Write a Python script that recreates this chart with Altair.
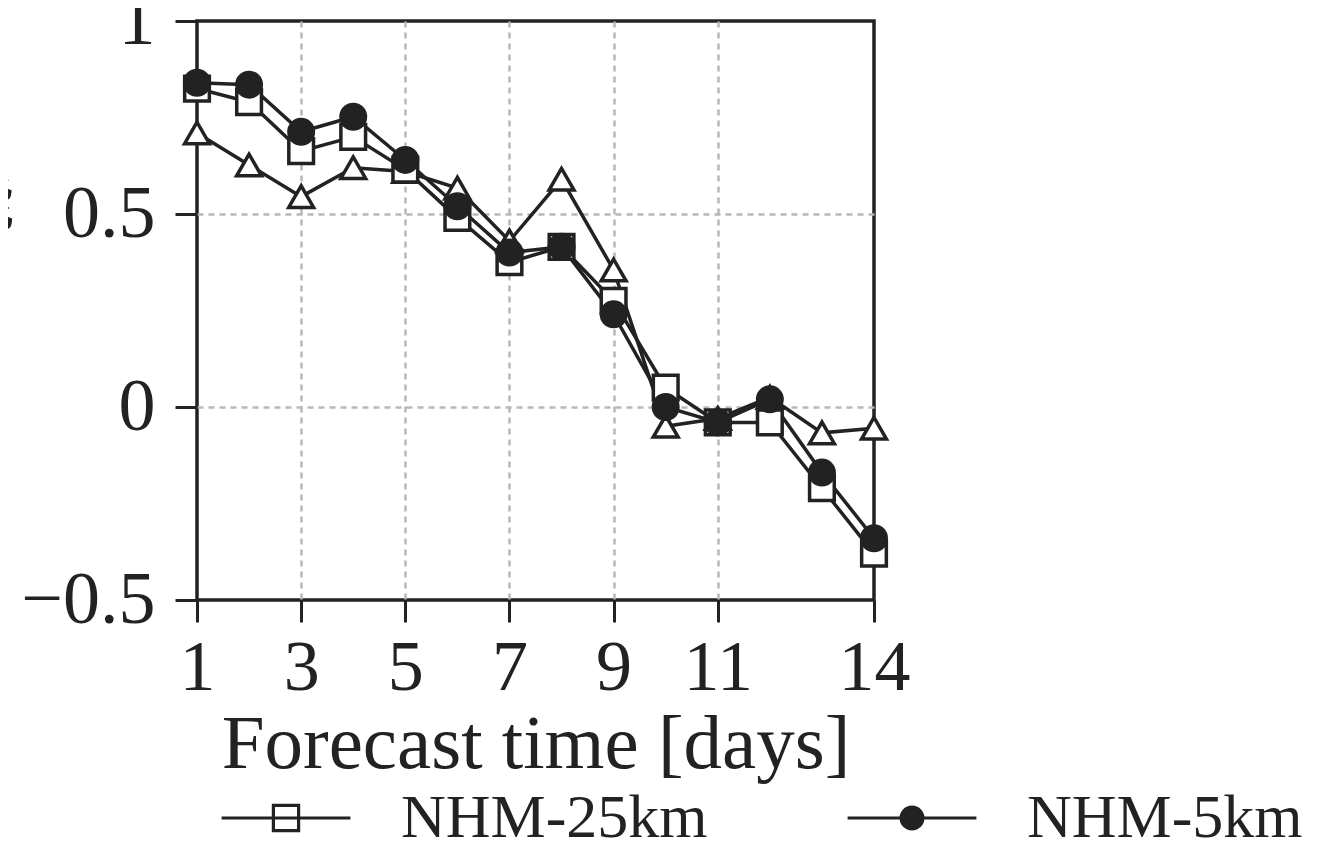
import altair as alt
import pandas as pd

days = list(range(1, 15))
series_names = ["Other", "NHM-25km", "NHM-5km"]
other = [0.71, 0.627, 0.545, 0.62, 0.61, 0.567, 0.43, 0.59, 0.355, -0.05, -0.03, 0.025, -0.067, -0.055]
nhm25 = [0.825, 0.79, 0.663, 0.70, 0.615, 0.49, 0.375, 0.415, 0.275, 0.05, -0.04, -0.04, -0.21, -0.38]
nhm5 = [0.84, 0.835, 0.713, 0.752, 0.64, 0.52, 0.40, 0.415, 0.24, 0.0, -0.04, 0.02, -0.17, -0.34]
x_ticks = [1, 3, 5, 7, 9, 11, 14]
y_ticks = [-0.5, 0, 0.5, 1]
legend_names = ["NHM-25km", "NHM-5km"]

rows = []
for name, vals in zip(series_names, [other, nhm25, nhm5]):
    for d, v in zip(days, vals):
        rows.append({"series": name, "day": d, "value": v})
df = pd.DataFrame(rows)

INK = "#222222"
SERIF = "Liberation Serif"

grid_x_op = alt.condition("datum.value == 1 || datum.value == 14", alt.value(0), alt.value(1))
grid_y_op = alt.condition("datum.value == 1 || datum.value == -0.5", alt.value(0), alt.value(1))

x_enc = alt.X(
    "day:Q",
    scale=alt.Scale(domain=[1, 14], nice=False, zero=False),
    axis=alt.Axis(
        values=x_ticks, title="Forecast time [days]", domain=False,
        labelFont=SERIF, labelFontSize=72, labelColor=INK, labelPadding=10,
        tickSize=22, tickWidth=3, tickColor=INK,
        grid=True, gridDash=[6, 5], gridColor="#b8b8b8", gridWidth=2.5, gridOpacity=grid_x_op,
        titleFont=SERIF, titleFontSize=77, titleFontWeight="normal", titleColor=INK,
        titleY=167, titleBaseline="alphabetic", labelFlush=False, labelOverlap=False,
    ),
)
y_enc = alt.Y(
    "value:Q",
    scale=alt.Scale(domain=[-0.5, 1], nice=False, zero=False),
    axis=alt.Axis(
        values=y_ticks, domain=False, format="~g",
        labelFont=SERIF, labelFontSize=74, labelColor=INK, labelPadding=20,
        tickSize=22, tickWidth=3, tickColor=INK,
        grid=True, gridDash=[6, 5], gridColor="#b8b8b8", gridWidth=2.5, gridOpacity=grid_y_op,
        title="能", titleAngle=0, titleX=-183, titleY=184, titleAlign="right",
        titleBaseline="middle", titleFont="Noto Sans CJK SC", titleFontSize=62,
        titleFontWeight="normal", titleColor=INK, labelFlush=False, labelOverlap=False,
    ),
)

base = alt.Chart(df)

lines = base.mark_line(color=INK, strokeWidth=3.5).encode(
    x=x_enc, y=y_enc, detail="series:N", order="day:Q"
)

points = base.mark_point(filled=True, stroke=INK, strokeWidth=3.5, opacity=1).encode(
    x=x_enc,
    y=y_enc,
    shape=alt.Shape("series:N", scale=alt.Scale(domain=series_names, range=["triangle-up", "square", "circle"]), legend=None),
    fill=alt.Fill("series:N", scale=alt.Scale(domain=series_names, range=["white", "white", INK]), legend=None),
    size=alt.Size("series:O", scale=alt.Scale(domain=series_names, range=[620, 600, 420]), legend=None),
)


def ring(r):
    return f"M{r},0A{r},{r},0,1,1,{-r},0A{r},{r},0,1,1,{r},0Z"


legend_paths = [
    "M-4.6,0H4.6M-0.9,-0.9H0.9V0.9H-0.9Z",
    "M-4.6,0H4.6" + "".join(ring(r) for r in [0.78, 0.58, 0.38, 0.18, 0.04]),
]
leg = alt.Legend(
    orient="none", legendX=58, legendY=766, direction="horizontal", title=None,
    symbolSize=784, symbolStrokeWidth=3.2, symbolStrokeColor=INK,
    symbolFillColor="transparent", symbolOpacity=1,
    labelFont=SERIF, labelFontSize=62, labelColor=INK, labelOffset=84,
    columnPadding=133, labelLimit=0,
)
legend_layer = base.transform_filter("false").mark_point(filled=False, color=INK, strokeWidth=3, opacity=1).encode(
    x=x_enc,
    y=y_enc,
    shape=alt.Shape("series:N", scale=alt.Scale(domain=legend_names, range=legend_paths), legend=leg),
)

chart = (
    alt.layer(lines, points, legend_layer)
    .resolve_scale(shape="independent")
    .properties(
        width=677, height=579,
        autosize=alt.AutoSizeParams(type="none"),
        padding={"left": 189, "top": 13, "right": 437, "bottom": 253},
        background="white",
    )
    .configure_view(stroke=INK, strokeWidth=3.5)
)

chart.save("out.html", embed_options={"renderer": "svg", "actions": False})
